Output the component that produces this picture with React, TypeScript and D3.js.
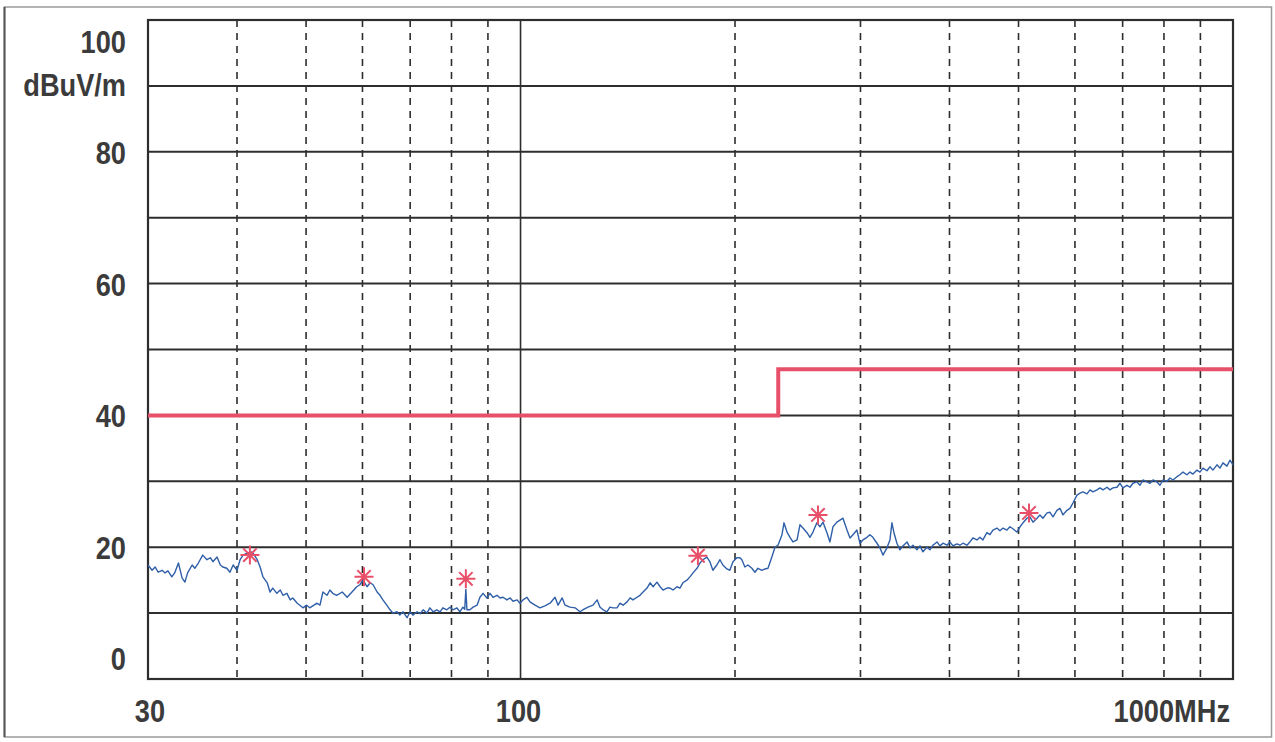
import React from 'react';
import * as d3 from 'd3';

const W = 1275;
const H = 742;
const margin = { top: 20, right: 42, bottom: 63, left: 148 };

// Axis definitions
const yDomain = [0, 100];
const xDomain = [30, 1000];
const yGridLevels = [0, 10, 20, 30, 40, 50, 60, 70, 80, 90, 100];
const yTickLabels = [
  { v: 100, t: '100' },
  { v: 80, t: '80' },
  { v: 60, t: '60' },
  { v: 40, t: '40' },
  { v: 20, t: '20' },
  { v: 0, t: '0' },
];
const yUnit = 'dBuV/m';
const xDashedGrid = [40, 50, 60, 70, 80, 90, 200, 300, 400, 500, 600, 700, 800, 900];
const xSolidGrid = [100];
const xTickLabels = [
  { v: 30, t: '30' },
  { v: 100, t: '100' },
  { v: 1000, t: '1000MHz' },
];

// Limit line (step): frequency MHz, level dBuV/m
const limitFreqs = [30, 230, 1000];
const limitLevels = [40, 47, 47];

// Measurement trace [MHz, dBuV/m]
const traceLow: [number, number][] = [
  [30.0, 17.3], [30.4, 16.5], [30.7, 17.0], [31.0, 16.2], [31.4, 16.5], [31.7, 16.1], [32.0, 16.4], [32.4, 15.5],
  [32.7, 16.1], [33.1, 17.6], [33.5, 15.3], [33.8, 14.7], [34.1, 16.1], [34.6, 17.3], [34.9, 16.8], [35.3, 17.6],
  [35.8, 18.8], [36.3, 18.1], [36.7, 18.4], [37.0, 17.8], [37.5, 18.5], [37.9, 17.3], [38.2, 17.0], [38.7, 16.8],
  [39.1, 16.2], [39.5, 17.3], [40.0, 16.5], [40.4, 18.1], [40.8, 18.8], [41.3, 19.1], [42.0, 19.3], [42.7, 18.1],
  [43.1, 17.0], [43.5, 15.5], [44.1, 14.6], [44.5, 13.2], [44.9, 13.8], [45.5, 13.0], [46.0, 13.5], [46.4, 12.7],
  [47.0, 13.0], [47.5, 12.0], [47.9, 12.3], [48.6, 11.5], [49.0, 11.2], [49.5, 10.8], [50.1, 11.2], [50.6, 10.8],
  [51.1, 11.1], [51.8, 11.5], [52.3, 11.2], [52.8, 13.2], [53.5, 12.7], [54.0, 13.5], [54.5, 13.0], [55.2, 12.7],
  [56.2, 13.2], [57.1, 12.4], [58.0, 13.2], [58.9, 14.0], [59.5, 14.3], [60.1, 15.0], [60.9, 14.0], [61.5, 14.6],
  [62.1, 14.3], [62.9, 13.2], [63.5, 12.7], [64.1, 12.0], [64.9, 11.2], [65.6, 10.5], [66.2, 10.0], [67.1, 10.2],
  [67.7, 9.7], [68.4, 10.2], [69.3, 9.3], [70.0, 10.2], [70.6, 9.7], [71.6, 10.2], [72.3, 9.9], [73.0, 10.5],
  [73.9, 10.0], [74.6, 10.8], [75.4, 10.2], [76.3, 10.5], [77.1, 10.2], [77.8, 10.8], [78.8, 10.5], [79.6, 10.9],
  [80.4, 10.5], [81.4, 10.8], [82.2, 10.2], [83.0, 10.9], [83.5, 10.6], [83.8, 13.6], [84.1, 10.5], [84.9, 10.5],
  [85.8, 10.9], [86.9, 11.2], [87.7, 12.4], [88.6, 13.0], [89.7, 12.3], [90.6, 13.0], [91.5, 12.4], [92.7, 12.7],
  [93.6, 12.3], [94.5, 12.4], [95.7, 12.0], [96.7, 12.3], [97.6, 11.8], [98.9, 12.0], [99.8, 11.5],
];
const traceMid: [number, number][] = [
  [100.8, 12.0], [102.1, 12.4], [103.1, 11.7], [104.8, 11.2], [106.5, 10.8], [108.2, 11.1], [110.0, 11.5], [111.8, 12.4],
  [112.9, 11.2], [114.4, 12.3], [115.5, 11.2], [117.3, 10.9], [119.3, 10.8], [121.2, 10.2], [122.8, 10.6], [124.4, 10.9],
  [126.4, 11.2], [128.1, 12.0], [129.3, 10.9], [130.6, 10.5], [132.2, 10.2], [133.5, 10.9], [134.8, 10.8], [136.6, 10.8],
  [137.9, 11.5], [139.3, 11.2], [141.1, 11.7], [142.5, 12.3], [143.8, 12.0], [145.7, 12.4], [147.1, 12.7], [148.6, 13.2],
  [150.5, 13.8], [152.0, 14.6], [153.5, 14.0], [155.4, 14.7], [157.0, 14.0], [158.5, 13.5], [160.5, 13.8], [162.1, 13.8],
  [163.7, 13.5], [165.8, 14.0], [167.4, 13.8], [169.0, 14.6], [171.2, 15.0], [172.9, 15.5], [174.6, 16.1], [176.9, 16.8],
  [178.6, 17.6], [180.3, 18.1], [182.6, 18.5], [184.4, 17.8], [186.2, 16.5], [188.6, 17.3], [190.5, 18.1], [192.3, 17.3],
  [194.8, 16.7], [196.7, 16.5], [198.7, 17.8], [201.2, 18.4], [203.2, 18.4], [204.5, 18.1], [206.5, 17.0], [208.5, 17.3],
  [211.2, 16.8], [213.3, 16.2], [215.4, 16.8], [218.2, 16.5], [220.3, 16.7], [222.5, 16.8], [225.3, 18.5], [227.6, 20.0],
  [229.8, 20.3],
];
const traceHigh: [number, number][] = [
  [232.8, 21.9], [234.3, 23.7], [236.6, 22.3], [238.9, 21.5], [241.2, 20.8], [244.4, 21.1], [246.7, 23.4], [249.1, 22.9],
  [252.4, 22.2], [254.8, 21.5], [257.3, 22.3], [260.6, 23.7], [263.2, 23.1], [265.8, 23.8], [269.2, 22.2], [271.8, 20.8],
  [274.5, 23.1], [278.0, 23.8], [280.8, 24.1], [283.5, 24.4], [287.2, 22.6], [290.0, 21.4], [292.8, 21.9], [296.6, 22.6],
  [299.5, 20.6], [302.4, 21.1], [306.4, 21.5], [309.3, 21.9], [312.3, 21.5], [316.4, 20.6], [319.5, 19.9], [322.6, 18.8],
  [326.8, 19.9], [330.0, 21.1], [332.1, 23.7], [334.3, 22.2], [337.5, 20.6], [340.8, 19.6], [344.1, 20.2], [348.7, 20.8],
  [352.1, 19.9], [355.5, 20.3], [360.1, 19.6], [363.6, 20.2], [367.1, 19.3], [371.9, 20.0], [375.5, 19.6], [379.2, 20.3],
  [384.2, 20.8], [387.9, 20.2], [391.7, 20.6], [396.8, 20.3], [400.6, 20.8], [404.5, 20.2], [409.7, 20.5], [413.7, 20.3],
  [417.8, 20.6], [423.2, 20.3], [427.3, 20.8], [431.5, 21.4], [437.1, 21.1], [441.4, 21.5], [445.6, 21.1], [451.4, 22.2],
  [455.9, 21.9], [460.3, 22.6], [466.3, 22.9], [470.8, 22.5], [475.5, 22.9], [481.6, 22.6], [486.3, 23.1], [491.0, 22.8],
  [497.4, 22.3], [502.4, 23.1], [507.3, 23.7], [513.8, 24.4], [518.8, 24.6], [523.9, 23.8], [530.7, 24.4], [535.8, 24.9],
  [541.0, 24.4], [548.2, 25.2], [553.5, 25.3], [558.9, 24.6], [566.1, 25.6], [571.6, 25.9], [577.2, 24.9], [584.7, 25.6],
  [590.4, 25.9], [596.1, 26.7], [604.0, 27.9], [609.9, 28.2], [615.8, 28.4], [623.8, 28.1], [629.9, 28.7], [636.0, 28.4],
  [644.3, 28.7], [650.5, 29.0], [657.0, 28.7], [665.5, 29.1], [671.9, 28.7], [678.5, 29.0], [687.3, 29.1], [694.0, 29.7],
  [700.7, 29.0], [709.8, 29.4], [716.7, 29.1], [723.8, 29.7], [733.2, 29.9], [740.4, 29.4], [747.6, 30.2], [757.3, 29.9],
  [764.6, 29.7], [772.1, 30.2], [782.1, 29.9], [789.8, 29.4], [797.5, 30.2], [807.8, 30.0], [815.7, 30.5], [823.6, 30.2],
  [834.3, 30.7], [842.4, 31.0], [850.6, 31.4], [861.6, 31.0], [870.2, 31.4], [878.7, 31.1], [890.1, 31.7], [898.7, 31.4],
  [907.5, 32.0], [919.3, 31.6], [928.2, 32.2], [937.2, 31.7], [949.5, 32.5], [958.7, 32.0], [968.1, 32.8], [980.6, 32.3],
  [990.2, 33.2], [1000, 32.5],
];

// Peak markers [MHz, dBuV/m]
const peakFreqs = [41.7, 60.3, 83.8, 177.4, 261.5, 517.2];
const peakLevels = [18.8, 15.5, 15.2, 18.7, 24.9, 25.2];

const FONT = "'Liberation Sans', Arial, sans-serif";
const TXT = '#3b3b3b';
const GRID = '#2e2e2e';
const LIMIT = '#e8506a';
const TRACE = '#2f5fa8';
const SX = 0.85;

export default function App() {
  const x = d3.scaleLog().domain(xDomain).range([margin.left, W - margin.right]);
  const y = d3.scaleLinear().domain(yDomain).range([H - margin.bottom, margin.top]);

  const trace = [...traceLow, ...traceMid, ...traceHigh];
  const traceLine = d3
    .line<[number, number]>()
    .x((d) => x(d[0]))
    .y((d) => y(d[1]));

  const limitData: [number, number][] = limitFreqs.map((f, i) => [f, limitLevels[i]]);
  const limitLine = d3
    .line<[number, number]>()
    .x((d) => x(d[0]))
    .y((d) => y(d[1]))
    .curve(d3.curveStepAfter);

  const x0 = x(xDomain[0]);
  const x1 = x(xDomain[1]);
  const yTop = y(yDomain[1]);
  const yBot = y(yDomain[0]);

  const labelY = (v: number) => {
    if (v === yDomain[1]) return y(v) + 33;
    if (v === yDomain[0]) return y(v) - 9;
    return y(v) + 12;
  };

  const star = (cx: number, cy: number, r: number) => {
    const p = d3.path();
    for (let k = 0; k < 4; k++) {
      const a = (k * Math.PI) / 4;
      p.moveTo(cx - r * Math.cos(a), cy - r * Math.sin(a));
      p.lineTo(cx + r * Math.cos(a), cy + r * Math.sin(a));
    }
    return p.toString();
  };

  const Label = ({ tx, ty, anchor, children }: { tx: number; ty: number; anchor: string; children: string }) => (
    <text
      transform={`translate(${tx},${ty}) scale(${SX},1)`}
      textAnchor={anchor}
      fontFamily={FONT}
      fontWeight="bold"
      fontSize={32}
      fill={TXT}
    >
      {children}
    </text>
  );

  return (
    <svg
      width={W}
      height={H}
      style={{ position: 'absolute', left: 0, top: 0, background: '#fff', display: 'block' }}
    >
      <rect x={0} y={0} width={W} height={H} fill="#fff" />
      {/* outer frame */}
      <rect x={4.5} y={7} width={1267} height={730} fill="none" stroke="#9a9a9a" strokeWidth={1.5} />
      <line x1={4.5} y1={7} x2={4.5} y2={737} stroke="#555" strokeWidth={2} />

      {/* vertical dashed grid */}
      {xDashedGrid.map((f) => (
        <line
          key={'vx' + f}
          x1={x(f)}
          x2={x(f)}
          y1={yTop}
          y2={yBot}
          stroke={GRID}
          strokeWidth={1.6}
          strokeDasharray="7,6"
        />
      ))}
      {xSolidGrid.map((f) => (
        <line key={'vs' + f} x1={x(f)} x2={x(f)} y1={yTop} y2={yBot} stroke={GRID} strokeWidth={1.6} />
      ))}

      {/* horizontal grid */}
      {yGridLevels.map((v) => (
        <line key={'h' + v} x1={x0} x2={x1} y1={y(v)} y2={y(v)} stroke={GRID} strokeWidth={2} />
      ))}

      {/* plot border */}
      <rect x={x0} y={yTop} width={x1 - x0} height={yBot - yTop} fill="none" stroke={GRID} strokeWidth={2.2} />

      {/* limit line */}
      <path d={limitLine(limitData) || ''} fill="none" stroke={LIMIT} strokeWidth={4} />

      {/* trace */}
      <path d={traceLine(trace) || ''} fill="none" stroke={TRACE} strokeWidth={1.4} strokeLinejoin="round" />

      {/* peak markers */}
      {peakFreqs.map((f, i) => (
        <path
          key={'pk' + i}
          d={star(x(f), y(peakLevels[i]), 9.5)}
          stroke={LIMIT}
          strokeWidth={2}
          fill="none"
        />
      ))}

      {/* y labels */}
      {yTickLabels.map((d) => (
        <Label key={'yl' + d.v} tx={126} ty={labelY(d.v)} anchor="end">
          {d.t}
        </Label>
      ))}
      <Label tx={126} ty={y(90) + 10} anchor="end">
        {yUnit}
      </Label>

      {/* x labels */}
      {xTickLabels.map((d, i) => {
        const last = i === xTickLabels.length - 1;
        const first = i === 0;
        return (
          <Label
            key={'xl' + d.v}
            tx={last ? x(d.v) - 3 : first ? x(d.v) + 2 : x(d.v) - 2}
            ty={722}
            anchor={last ? 'end' : 'middle'}
          >
            {d.t}
          </Label>
        );
      })}
    </svg>
  );
}
